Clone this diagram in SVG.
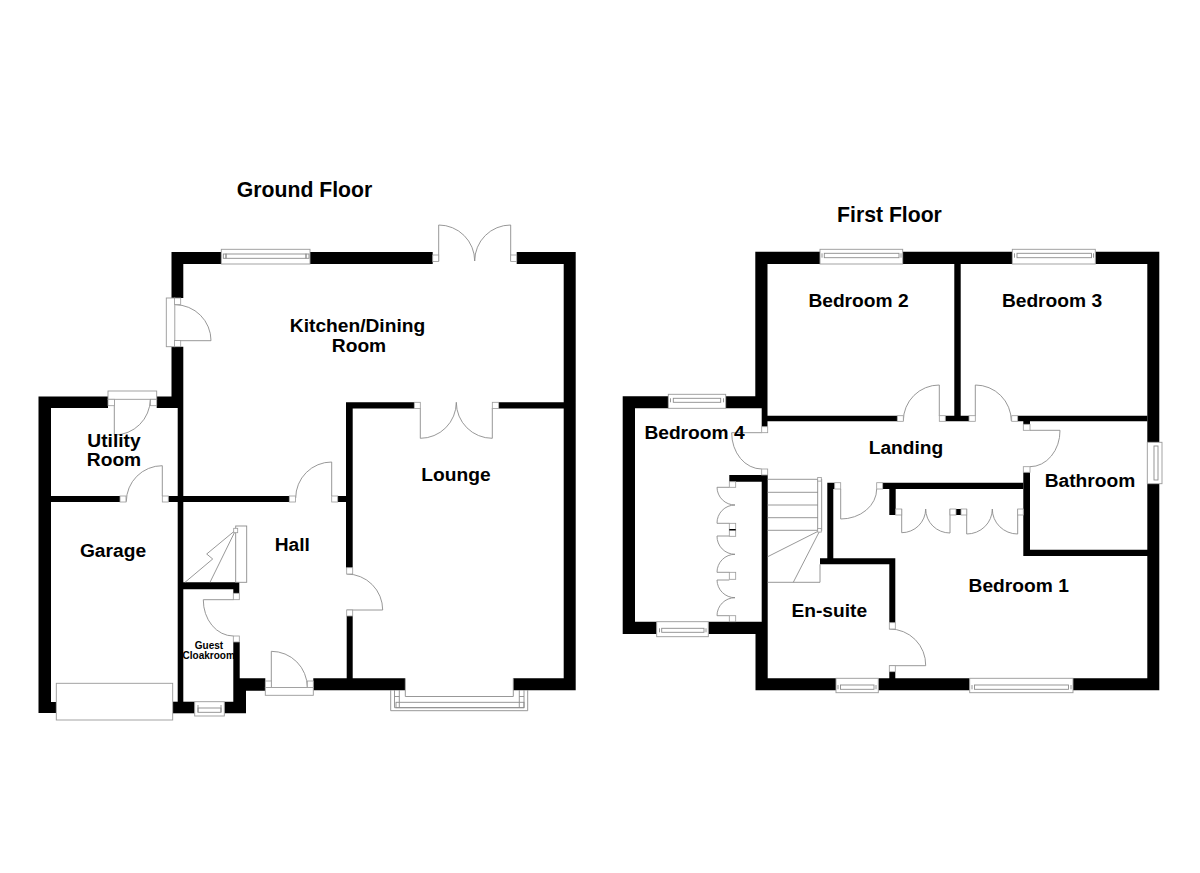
<svg xmlns="http://www.w3.org/2000/svg" width="1200" height="873" viewBox="0 0 1200 873">
<style>
.wall{fill:#000}
.frame{fill:#fff;stroke:#999;stroke-width:.9}
.jamb{fill:#fff;stroke:#999;stroke-width:.8}
.line{fill:none;stroke:#8c8c8c;stroke-width:.9}
text{font-family:"Liberation Sans",Arial,sans-serif;font-weight:700;fill:#000;text-anchor:middle}
.t{font-size:21.2px}
.r{font-size:19.2px}
.s{font-size:10px}
</style>
<rect width="1200" height="873" fill="#fff"/>

<g id="ground-floor">
<g id="ground-walls">
<path class="wall" d="M38.5 396.5H108V408H51V702H56.3V713H38.5Z"/>
<path class="wall" d="M171.5 252H221.3V264H183.3V298H171.5Z"/>
<path class="wall" d="M171.5 346.7H183.3V702H177.7V408H156.7V396.5H171.5Z"/>
<path class="wall" d="M310 252H432.7V264H310Z"/>
<path class="wall" d="M516.7 252H575.7V690.3H513.3V678.3H563.7V408.5H498.7V402.3H563.7V264H516.7Z"/>
<path class="wall" d="M346 402.3H414.3V408.5H352.7V567.7H346Z"/>
<path class="wall" d="M346.7 616H352.7V678.3H405V690.3H313.3V678.3H346.7Z"/>
<path class="wall" d="M51 496H120V502H51Z"/>
<path class="wall" d="M168.3 496H289.3V502H168.3Z"/>
<path class="wall" d="M337.7 496H346V502H337.7Z"/>
<path class="wall" d="M172.7 701.7H194.7V713.3H172.7Z"/>
<path class="wall" d="M183 582.3H239.3V593.3H233.3V589.3H183Z"/>
<path class="wall" d="M233.3 642H239.7V678.3H265.3V690.7H246V713.3H224.3V701.7H233.3Z"/>
</g>
<g id="ground-doors">
<path class="line" d="M175 304.7A36 36 0 0 1 211 340.7H175"/>
<path class="line" d="M438.7 261V225A36 36 0 0 1 474.7 261"/>
<path class="line" d="M510.7 261V225A36 36 0 0 0 474.7 261"/>
<path class="line" d="M420.3 408V438.3A36 36 0 0 0 456.3 402.3"/>
<path class="line" d="M492.3 408V438.3A36 36 0 0 1 456.3 402.3"/>
<path class="line" d="M331.7 496V462A36 36 0 0 0 295.7 498"/>
<path class="line" d="M162.3 496V465.7A36 36 0 0 0 126.3 501.7"/>
<path class="line" d="M114.3 399.3V435A36 36 0 0 0 150.3 399.3"/>
<path class="line" d="M346.7 574A36 36 0 0 1 382.7 610H346.7"/>
<path class="line" d="M271.3 687.3V651.3A36 36 0 0 1 307.3 687.3"/>
<path class="line" d="M233.3 599.7H203.3A30 36 0 0 0 233.3 636"/>
<rect class="frame" x="166.3" y="298" width="8.5" height="48.7"/>
<rect class="frame" x="108" y="391" width="48.7" height="8.3"/>
<rect class="frame" x="265.3" y="687.5" width="48" height="7.8"/>
<rect class="jamb" x="174.5" y="298" width="6.2" height="6.5"/>
<rect class="jamb" x="174.5" y="340.5" width="6.2" height="6.2"/>
<rect class="jamb" x="432.7" y="255" width="6" height="6.5"/>
<rect class="jamb" x="510.7" y="255" width="6" height="6.5"/>
<rect class="jamb" x="414.3" y="402.3" width="6" height="6.2"/>
<rect class="jamb" x="492.3" y="402.3" width="6.4" height="6.2"/>
<rect class="jamb" x="289.3" y="496" width="6.2" height="6"/>
<rect class="jamb" x="331.7" y="496" width="6" height="6"/>
<rect class="jamb" x="120" y="496" width="6" height="6"/>
<rect class="jamb" x="162.3" y="496" width="6" height="6"/>
<rect class="jamb" x="108" y="399.3" width="6.5" height="6.4"/>
<rect class="jamb" x="150.5" y="399.3" width="6.2" height="6.4"/>
<rect class="jamb" x="346.7" y="567.7" width="6" height="6.3"/>
<rect class="jamb" x="346.7" y="610" width="6" height="6"/>
<rect class="jamb" x="265.3" y="681" width="6" height="6.5"/>
<rect class="jamb" x="307.3" y="681" width="6" height="6.5"/>
<rect class="jamb" x="233.3" y="593.3" width="6" height="6.4"/>
<rect class="jamb" x="233.3" y="636" width="6" height="6"/>
</g>
<g id="ground-windows">
<rect class="frame" x="221.3" y="249.3" width="88.7" height="14.7"/>
<rect class="line" x="226" y="254" width="80" height="4.3"/>
<rect class="line" x="223.3" y="254" width="2.7" height="4.3"/>
<rect class="line" x="306" y="254" width="3" height="4.3"/>
<rect class="frame" x="194.7" y="701.7" width="29.6" height="14.3"/>
<rect class="line" x="198" y="708" width="23" height="4.3"/>
<path class="line" d="M198 705V712.3M221 705V712.3"/>
<rect class="frame" x="56.3" y="683.3" width="116.4" height="36.7"/>
<path class="line" d="M390.7 690V710.7H527.7V690"/>
<path class="line" d="M405.3 678.3V696.5H513.3V678.3"/>
<path class="line" d="M394.5 690V707.7H524V690"/>
<rect class="line" x="396" y="702.3" width="128" height="5.4"/>
<path class="line" d="M399.3 690V707.7M519.3 690V707.7M394.5 696.5H399.3M519.3 696.5H524"/>
</g>
<g id="ground-stairs">
<rect class="line" x="235.7" y="526" width="11" height="56.3"/>
<path class="line" d="M185 582.3L212.7 559L206.7 554L235.7 530M210 582.3L235.7 530"/>
<rect class="jamb" x="233.7" y="528.3" width="4" height="4.4"/>
</g>
<g id="ground-labels">
<text class="t" x="304.5" y="197">Ground Floor</text>
<text class="r" x="357.5" y="331.7">Kitchen/Dining</text>
<text class="r" x="359" y="351.7">Room</text>
<text class="r" x="114" y="446.7">Utility</text>
<text class="r" x="114" y="466">Room</text>
<text class="r" x="113" y="556.7">Garage</text>
<text class="s" x="209" y="649.3">Guest</text>
<text class="s" x="208.7" y="659">Cloakroom</text>
<text class="r" x="292.3" y="551">Hall</text>
<text class="r" x="456" y="481">Lounge</text>
</g>
</g>

<g id="first-floor">
<g id="first-walls">
<path class="wall" d="M622.7 396.3H668.3V408.3H635V621.7H656.7V634H622.7Z"/>
<path class="wall" d="M755.3 251.7H820V264H767.5V415.7H897.3V421.3H767.5V426.7H761.7V408.3H725.7V396.3H755.3Z"/>
<path class="wall" d="M902.7 251.7H1012.3V264H960.7V415.7H969V421.3H945.3V415.7H954.3V264H902.7Z"/>
<path class="wall" d="M1095.3 251.7H1159.3V442.3H1147.3V264H1095.3Z"/>
<path class="wall" d="M1147.3 483.7H1159.3V690.3H1073V678.3H1147.3V556H1023.3V472.3H1030V549.7H1147.3Z"/>
<path class="wall" d="M1017.7 415.7H1147.3V421.3H1030V424.3H1023.3V421.3H1017.7Z"/>
<path class="wall" d="M882.7 482.7H1023.3V489H895.7V515H889.3V489H882.7Z"/>
<path class="wall" d="M820 558.3H827.3V482.7H834.7V489H833.3V558.3H895.3V622.7H889.3V564.3H820Z"/>
<path class="wall" d="M729.3 475H767.7V678.3H836V690.3H755.5V634H708.3V621.7H761.7V481.7H729.3Z"/>
<path class="wall" d="M878.3 678.3H889.3V671.7H895.3V678.3H969.7V690.3H878.3Z"/>
<rect class="wall" x="956" y="509" width="5" height="6"/>
</g>
<g id="first-doors">
<path class="line" d="M939.3 416V385A36 36 0 0 0 903.3 421"/>
<path class="line" d="M975.3 416V385A36 36 0 0 1 1011.3 421"/>
<path class="line" d="M1030 430.3H1060A30 36 0 0 1 1030 466.7"/>
<path class="line" d="M840.7 489V519A36 30 0 0 0 876.7 489"/>
<path class="line" d="M889.3 629A36 36 0 0 1 925.7 665.7H889.3"/>
<path class="line" d="M761.7 432.7H731.7A30 36 0 0 0 761.7 469"/>
<path class="line" d="M901.7 509V532.7A24 24 0 0 0 925.7 509A24.3 24 0 0 0 950 533V509"/>
<path class="line" d="M966.7 509V534A25.6 25 0 0 0 992.3 509A25.4 25 0 0 0 1017.7 534V509"/>
<path class="line" d="M729.3 487.3H717A18 18 0 0 0 735 505A18 18 0 0 0 717 523.3H729.3"/>
<path class="line" d="M729.3 536H717A18 18 0 0 0 735 554.3A18 18 0 0 0 717 572.3H729.3"/>
<path class="line" d="M729.3 580H717A18 18 0 0 0 735 597.7A18 18 0 0 0 717 615.7H729.3"/>
<rect class="jamb" x="897.3" y="415.7" width="6" height="5.6"/>
<rect class="jamb" x="939.3" y="415.7" width="6" height="5.6"/>
<rect class="jamb" x="969" y="415.7" width="6.3" height="5.6"/>
<rect class="jamb" x="1011.7" y="415.7" width="6" height="5.6"/>
<rect class="jamb" x="1023.3" y="424.3" width="6.7" height="6"/>
<rect class="jamb" x="1023.3" y="466.7" width="6.7" height="5.6"/>
<rect class="jamb" x="834.7" y="482.7" width="6" height="6.3"/>
<rect class="jamb" x="876.7" y="482.7" width="6" height="6.3"/>
<rect class="jamb" x="889.3" y="622.7" width="6" height="6.3"/>
<rect class="jamb" x="889.3" y="665.7" width="6" height="6"/>
<rect class="jamb" x="761.7" y="426.7" width="6" height="6"/>
<rect class="jamb" x="761.7" y="469" width="6" height="6"/>
<rect class="jamb" x="895.7" y="509" width="6" height="6"/>
<rect class="jamb" x="950" y="509" width="6" height="6"/>
<rect class="jamb" x="961" y="509" width="5.7" height="6"/>
<rect class="jamb" x="1017.7" y="509" width="5.6" height="6"/>
<rect class="jamb" x="729.3" y="481.7" width="6.4" height="5.6"/>
<rect class="jamb" x="729.3" y="523.3" width="6.4" height="13"/>
<rect class="wall" x="729.3" y="529" width="6.4" height="1.5"/>
<rect class="jamb" x="729.3" y="572.3" width="6.4" height="7"/>
<rect class="jamb" x="729.3" y="615.7" width="6.4" height="6"/>
</g>
<g id="first-windows">
<rect class="frame" x="820" y="249.3" width="82.7" height="14.7"/>
<rect class="line" x="824.3" y="253.3" width="74.7" height="4.4"/>
<path class="line" d="M822 253.300V257.700M901 253.3V257.7"/>
<rect class="frame" x="1012.3" y="249.3" width="83" height="14.7"/>
<rect class="line" x="1017" y="253.3" width="74.500" height="4.4"/>
<path class="line" d="M1014.500 253.300V257.700M1093.500 253.300V257.700"/>
<rect class="frame" x="1147.3" y="442.3" width="14.7" height="41.4"/>
<rect class="line" x="1154" y="446" width="4" height="34"/>
<rect class="frame" x="668.3" y="394.3" width="57.4" height="14"/>
<rect class="line" x="673.3" y="398.3" width="47.4" height="4"/>
<path class="line" d="M670.500 398.300V402.300M723.500 398.300V402.300"/>
<rect class="frame" x="656.7" y="621.7" width="51.6" height="15"/>
<rect class="line" x="661.7" y="628.3" width="42.3" height="4"/>
<path class="line" d="M659.500 628.300V632.300M706 628.300V632.300"/>
<rect class="frame" x="836" y="678.3" width="42.3" height="14.4"/>
<rect class="line" x="840.5" y="685" width="33.5" height="4.3"/>
<path class="line" d="M838 685V689.300M876 685V689.300"/>
<rect class="frame" x="969.7" y="678.3" width="103.3" height="14.4"/>
<rect class="line" x="974.5" y="685" width="94" height="4.3"/>
<path class="line" d="M972 685V689.300M1071 685V689.300"/>
</g>
<g id="first-stairs">
<path class="line" d="M767.7 479.3H820M767.7 492.3H818M767.7 505H818M767.7 517.7H818M767.7 530.3H820M820 530.3L767.7 556.7M820 530.3L793.3 582.3M820 564.3V582.3H767.7"/>
<rect class="line" x="817.7" y="479.3" width="4" height="51"/>
<rect class="jamb" x="817.7" y="477.5" width="3.6" height="3.6"/>
<rect class="jamb" x="817.7" y="528.5" width="3.6" height="3.6"/>
</g>
<g id="first-labels">
<text class="t" x="889.5" y="222">First Floor</text>
<text class="r" x="858.5" y="307">Bedroom 2</text>
<text class="r" x="1052" y="307">Bedroom 3</text>
<text class="r" x="694.5" y="439">Bedroom 4</text>
<text class="r" x="906" y="454.3">Landing</text>
<text class="r" x="1090" y="486.7">Bathroom</text>
<text class="r" x="1018.7" y="591.7">Bedroom 1</text>
<text class="r" x="829.3" y="617.3">En-suite</text>
</g>
</g>
</svg>
